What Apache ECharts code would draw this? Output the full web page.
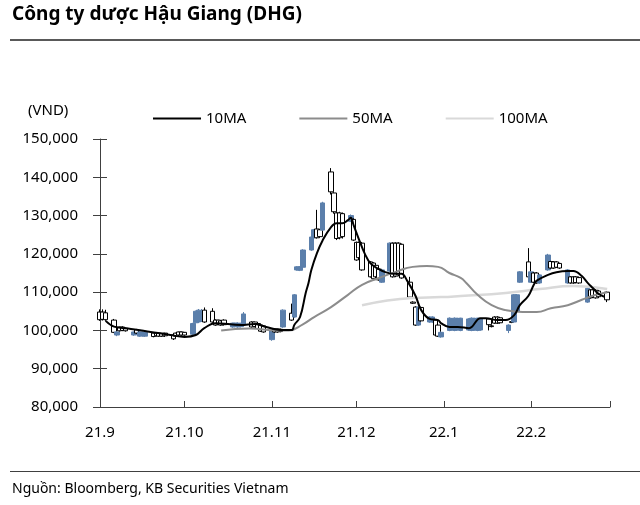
<!DOCTYPE html>
<html><head><meta charset="utf-8">
<script src="https://cdn.jsdelivr.net/npm/echarts@6/dist/echarts.min.js"></script>
<style>html,body{margin:0;padding:0;background:#fff}#c{width:640px;height:505px}</style>
</head><body><div id="c"></div>
<script>
// ---- data (prices in thousand VND) ----
const dates = [
'2021-09-01','2021-09-02','2021-09-03','2021-09-06','2021-09-07','2021-09-08','2021-09-09','2021-09-10',
'2021-09-13','2021-09-14','2021-09-15','2021-09-16','2021-09-17','2021-09-20','2021-09-21','2021-09-22',
'2021-09-23','2021-09-24','2021-09-27','2021-09-28','2021-09-29','2021-09-30',
'2021-10-01','2021-10-04','2021-10-05','2021-10-06','2021-10-07','2021-10-08','2021-10-11','2021-10-12',
'2021-10-13','2021-10-14','2021-10-15','2021-10-18','2021-10-19','2021-10-20','2021-10-21','2021-10-22',
'2021-10-25','2021-10-26','2021-10-27','2021-10-28','2021-10-29',
'2021-11-01','2021-11-02','2021-11-03','2021-11-04','2021-11-05','2021-11-08','2021-11-09','2021-11-10',
'2021-11-11','2021-11-12','2021-11-15','2021-11-16','2021-11-17','2021-11-18','2021-11-19','2021-11-22',
'2021-11-23','2021-11-24','2021-11-25','2021-11-26','2021-11-29','2021-11-30',
'2021-12-01','2021-12-02','2021-12-03','2021-12-06','2021-12-07','2021-12-08','2021-12-09','2021-12-10',
'2021-12-13','2021-12-14','2021-12-15','2021-12-16','2021-12-17','2021-12-20','2021-12-21','2021-12-22',
'2021-12-23','2021-12-24','2021-12-27','2021-12-28','2021-12-29','2021-12-30','2021-12-31',
'2022-01-03','2022-01-04','2022-01-05','2022-01-06','2022-01-07','2022-01-10','2022-01-11','2022-01-12',
'2022-01-13','2022-01-14','2022-01-17','2022-01-18','2022-01-19','2022-01-20','2022-01-21','2022-01-24',
'2022-01-25','2022-01-26','2022-01-27','2022-01-28','2022-01-31',
'2022-02-01','2022-02-02','2022-02-03','2022-02-04','2022-02-07','2022-02-08','2022-02-09','2022-02-10',
'2022-02-11','2022-02-14','2022-02-15','2022-02-16','2022-02-17','2022-02-18','2022-02-21','2022-02-22',
'2022-02-23','2022-02-24','2022-02-25','2022-02-28'
];
const opens = [
104.8,104.8,104.6,102.7,98.8,100.9,100.9,100.6,98.8,100.2,98.5,98.6,98.5,99.3,99.3,99.3,99.2,99.3,98.8,99.3,99.6,99.6,
99.5,99.0,102.0,102.2,102.5,105.3,105.0,102.7,102.7,102.5,102.7,100.9,101.0,100.9,101.0,101.5,102.2,102.2,101.8,101.4,101.2,
97.6,100.4,100.4,100.3,100.9,104.5,103.5,115.8,115.7,116.5,121.0,124.2,126.5,126.3,126.2,141.4,135.9,130.7,130.7,130.5,128.5,129.0,
123.0,123.0,122.8,117.9,117.6,117.0,116.0,112.6,115.5,122.8,122.8,122.8,122.5,112.6,107.4,106.1,101.4,106.0,102.2,102.2,102.7,101.4,98.3,
100.0,100.2,100.0,100.3,100.0,100.1,100.0,100.2,100.0,100.1,103.0,101.2,103.5,103.5,103.3,100.0,102.3,102.2,105.0,112.6,117.9,
112.6,115.0,115.0,112.4,115.8,118.0,117.9,117.9,117.5,112.4,114.0,114.0,114.0,113.8,107.4,110.6,110.6,110.5,110.3,110.0
];
const closes = [
102.8,102.9,102.8,99.5,99.6,99.9,100.0,99.9,99.6,99.3,99.6,99.6,99.5,98.4,98.6,98.5,98.5,98.6,97.8,98.5,98.8,98.8,
98.8,101.8,105.0,105.3,105.0,102.2,102.2,101.4,101.6,101.4,101.5,101.9,101.9,101.9,101.8,104.3,100.9,101.0,100.5,99.8,99.6,
100.0,99.6,99.6,99.7,105.3,102.7,109.3,116.6,116.6,121.0,124.4,126.3,124.2,124.5,133.3,136.2,131.0,124.0,124.2,124.5,130.0,123.6,
118.4,119.0,115.8,114.0,113.5,114.0,113.2,115.8,122.8,114.0,114.2,114.5,113.7,108.7,107.1,101.4,106.1,102.5,103.5,103.5,98.8,98.5,99.5,
103.2,103.0,103.2,103.1,103.2,103.0,103.2,103.1,103.2,103.0,101.5,101.0,101.9,101.9,102.0,101.4,102.1,109.3,109.3,115.3,114.0,
115.3,112.6,112.4,114.5,119.7,116.3,116.3,116.5,116.3,115.8,112.4,112.4,112.5,112.4,111.0,108.5,108.7,108.5,108.8,108.0
];
const lows = [
102.5,102.6,102.5,99.3,98.5,99.7,99.8,99.7,98.6,99.1,98.3,98.4,98.3,98.2,98.4,98.3,98.3,98.3,97.5,98.3,98.6,98.6,
98.6,98.8,101.8,102.0,102.2,102.0,102.0,101.2,101.4,101.2,101.3,100.7,100.8,100.7,100.8,101.3,100.7,100.8,100.3,99.6,99.4,
97.3,99.4,99.4,99.5,100.7,102.5,103.3,115.6,115.5,116.3,120.8,124.0,124.0,124.3,126.0,135.5,130.5,123.6,123.8,124.0,128.3,123.4,
118.2,118.8,115.6,113.8,113.3,113.8,113.0,112.4,115.3,113.8,114.0,114.3,113.5,108.5,106.9,101.2,101.2,102.3,102.0,102.0,98.6,98.3,98.1,
99.8,100.0,99.8,100.1,99.8,99.9,99.8,100.0,99.8,99.9,100.0,100.8,101.7,101.7,101.8,99.3,101.9,102.0,104.8,112.4,113.8,
112.4,112.4,112.2,112.2,115.6,116.1,116.1,116.3,116.1,112.2,112.2,112.2,112.3,112.2,107.2,108.3,108.5,108.3,108.6,107.4
];
const highs = [
105.5,105.5,105.4,103.0,99.8,101.0,101.1,100.8,99.7,100.4,99.8,99.7,99.6,99.5,99.4,99.4,99.3,99.4,99.0,99.4,99.7,99.7,
99.6,102.0,105.2,105.6,105.6,106.0,105.8,102.9,102.8,102.7,102.9,102.0,102.0,102.1,102.0,104.8,102.4,102.3,102.0,101.6,101.4,
100.2,100.6,100.5,100.5,105.5,107.0,109.5,116.8,116.8,121.2,124.6,126.5,131.5,126.5,133.6,142.4,136.1,131.0,131.0,130.8,130.3,129.3,
123.2,123.2,123.0,118.1,117.8,117.2,116.2,116.0,123.0,123.0,123.0,123.0,122.7,114.0,107.6,106.3,106.3,106.2,103.7,103.7,102.9,101.6,99.7,
103.4,103.2,103.4,103.3,103.3,103.2,103.4,103.3,103.3,103.2,103.2,101.4,103.7,103.7,103.5,101.6,102.5,109.5,109.5,115.5,121.5,
115.5,115.2,115.2,114.7,120.0,118.2,118.1,118.1,117.7,116.0,114.2,114.2,114.2,114.0,111.2,110.8,110.8,110.7,110.5,110.2
];
const ma10Dates = ['2021-09-03','2021-09-06','2021-09-12','2021-09-19','2021-09-26','2021-10-01','2021-10-05','2021-10-08',
'2021-10-12','2021-10-21','2021-10-26','2021-10-30','2021-11-04','2021-11-08','2021-11-09','2021-11-11','2021-11-13','2021-11-14',
'2021-11-15','2021-11-17','2021-11-19','2021-11-22','2021-11-24','2021-11-26','2021-11-28','2021-11-29','2021-11-30','2021-12-02',
'2021-12-04','2021-12-06','2021-12-09','2021-12-11','2021-12-14','2021-12-17','2021-12-19','2021-12-22','2021-12-24','2021-12-27',
'2021-12-30','2021-12-31','2022-01-03','2022-01-06','2022-01-10','2022-01-14','2022-01-16','2022-01-20','2022-01-23','2022-01-26',
'2022-01-28','2022-01-31','2022-02-02','2022-02-03','2022-02-07','2022-02-10','2022-02-14','2022-02-16','2022-02-19','2022-02-21',
'2022-02-23','2022-02-25','2022-02-27'];
const ma10Values = [102.5,101.0,100.4,99.6,98.8,98.3,98.8,100.6,101.9,101.4,101.7,100.9,100.1,100.1,101.5,103.5,109.8,112.4,
115.8,120.2,123.5,127.0,128.0,128.0,128.8,129.4,127.5,123.6,120.0,117.5,116.0,115.3,114.8,114.8,113.0,109.0,105.3,103.0,
102.7,101.9,100.9,100.9,100.6,103.2,103.2,102.7,102.7,104.0,106.6,109.0,112.0,113.0,114.5,115.2,115.5,115.5,114.2,112.5,
111.0,109.5,108.8];
const ma50Dates = ['2021-10-14','2021-10-24','2021-11-03','2021-11-07','2021-11-12','2021-11-16','2021-11-22',
'2021-11-28','2021-12-03','2021-12-09','2021-12-15','2021-12-21','2021-12-26','2021-12-30','2022-01-03','2022-01-07','2022-01-09',
'2022-01-13','2022-01-18','2022-01-23','2022-01-29','2022-02-03','2022-02-08','2022-02-14','2022-02-19','2022-02-24','2022-02-28'];
const ma50Values = [100.0,100.5,100.0,100.0,101.6,103.5,106.1,109.3,111.9,113.7,115.3,116.6,116.8,116.6,115.0,113.7,112.4,
109.3,106.6,105.3,104.8,104.8,105.8,106.6,108.0,109.3,110.0];
const ma100Dates = ['2021-12-03','2021-12-21','2021-12-31','2022-01-07','2022-01-23','2022-02-04','2022-02-16','2022-02-28'];
const ma100Values = [106.6,108.5,108.7,109.0,109.8,110.8,111.6,110.8];
const tickDates = ['2021-09-01','2021-10-01','2021-11-01','2021-12-01','2022-01-01','2022-02-01','2022-03-01'];
const tickLabels = ['21.9','21.10','21.11','21.12','22.1','22.2',''];
const yTicks = [80000,90000,100000,110000,120000,130000,140000,150000];

// ---- build ----
const ts = s => new Date(s + 'T00:00:00').getTime();
const K = 1000;
const candleData = dates.map((d,i)=>[ts(d), opens[i]*K, closes[i]*K, lows[i]*K, highs[i]*K]);
const line = (ds, vs) => ds.map((d,i)=>[ts(d), vs[i]*K]);
const tickTs = tickDates.map(ts);
const FONT = 'Noto Sans';
const chart = echarts.init(document.getElementById('c'), null, {renderer:'canvas'});
chart.setOption({
  animation:false,
  backgroundColor:'#fff',
  textStyle:{fontFamily:FONT},
  graphic:[
    {type:'text', left:12, top:5, style:{text:'Công ty dược Hậu Giang (DHG)', font:'bold 19px "Noto Sans"', fill:'#000'}},
    {type:'rect', shape:{x:10,y:39,width:630,height:2}, style:{fill:'#595959'}},
    {type:'text', left:28, top:103, style:{text:'(VND)', font:'15px "Noto Sans"', fill:'#000'}},
    {type:'rect', shape:{x:10,y:471,width:630,height:1}, style:{fill:'#404040'}},
    {type:'text', left:12, top:482, style:{text:'Nguồn: Bloomberg, KB Securities Vietnam', font:'14px "Noto Sans"', fill:'#000'}}
  ],
  legend:{
    data:['10MA','50MA','100MA'], left:148, top:106, icon:'rect', itemWidth:48, itemHeight:2, itemGap:53,
    textStyle:{fontSize:15, color:'#000', fontFamily:FONT}
  },
  grid:{left:100, right:30, top:139, bottom:98},
  xAxis:{
    type:'value', min:tickTs[0], max:tickTs[tickTs.length-1],
    axisLine:{show:true, onZero:false, lineStyle:{color:'#404040', width:1}},
    axisTick:{show:true, inside:true, length:6, customValues:tickTs, lineStyle:{color:'#404040'}},
    axisLabel:{customValues:tickTs.slice(0,-1), color:'#000', fontSize:15, margin:18, fontFamily:FONT,
      formatter:v=>{const i=tickTs.indexOf(+v); return i>=0?tickLabels[i]:'';}},
    splitLine:{show:false}
  },
  yAxis:[{
    type:'value', min:yTicks[0], max:yTicks[yTicks.length-1], interval:10000,
    axisLine:{show:true, lineStyle:{color:'#404040'}},
    axisTick:{show:true, length:7, lineStyle:{color:'#404040'}},
    axisLabel:{color:'#000', fontSize:15, margin:22, fontFamily:FONT, formatter:v=>v.toLocaleString('en-US')},
    splitLine:{show:false}
  },{
    type:'value', min:yTicks[0], max:yTicks[yTicks.length-1], interval:10000, position:'left',
    axisLine:{show:false}, axisLabel:{show:false},
    axisTick:{show:true, inside:true, length:7, lineStyle:{color:'#404040'}},
    splitLine:{show:false}
  }],
  series:[
    {type:'candlestick', name:'DHG', data:candleData, encode:{x:0,y:[1,2,3,4]}, barWidth:5,
      itemStyle:{color:'#5b7fab', color0:'#ffffff', borderColor:'#5b7fab', borderColor0:'#000000', borderWidth:1}, z:2},
    {type:'line', name:'100MA', data:line(ma100Dates, ma100Values), smooth:true, showSymbol:false,
      lineStyle:{color:'#d9d9d9', width:2.5}, itemStyle:{color:'#d9d9d9'}, z:3},
    {type:'line', name:'50MA', data:line(ma50Dates, ma50Values), smooth:true, showSymbol:false,
      lineStyle:{color:'#8c8c8c', width:2}, itemStyle:{color:'#8c8c8c'}, z:4},
    {type:'line', name:'10MA', data:line(ma10Dates, ma10Values), smooth:0.4, showSymbol:false,
      lineStyle:{color:'#000000', width:2}, itemStyle:{color:'#000000'}, z:5}
  ]
});
</script></body></html>
